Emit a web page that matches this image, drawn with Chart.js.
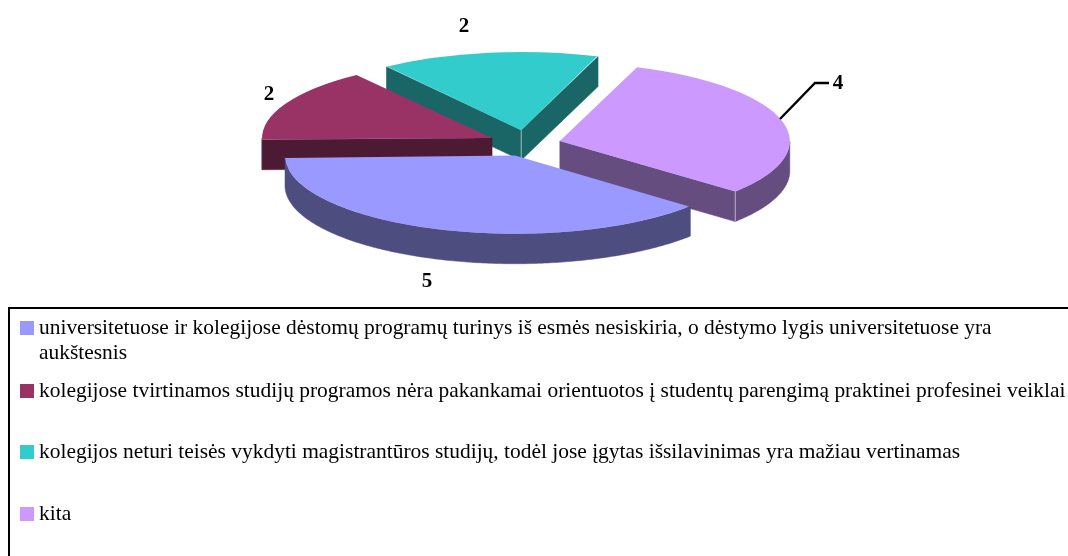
<!DOCTYPE html>
<html>
<head>
<meta charset="utf-8">
<style>
html,body{margin:0;padding:0;background:#fff;width:1068px;height:556px;overflow:hidden}
#wrap{position:relative;width:1068px;height:556px;overflow:hidden}
canvas{position:absolute;left:0;top:0}
#legend{position:absolute;left:8px;top:307px;width:1200px;height:400px;border:2.4px solid #000;box-sizing:border-box;font-family:"Liberation Serif",serif;font-size:21.45px;color:#000}
.sw{position:absolute;left:10px;width:14px;height:14px}
.tx{position:absolute;left:29px;white-space:nowrap;line-height:25px}
</style>
<script src="https://cdn.jsdelivr.net/npm/chart.js@4"></script>
</head>
<body>
<div id="wrap">
<canvas id="c" width="1068" height="556"></canvas>
<div id="legend"></div>
</div>
<script>
const categories = [
  ["universitetuose ir kolegijose dėstomų programų turinys iš esmės nesiskiria, o dėstymo lygis universitetuose yra", "aukštesnis"],
  ["kolegijose tvirtinamos studijų programos nėra pakankamai orientuotos į studentų parengimą praktinei profesinei veiklai"],
  ["kolegijos neturi teisės vykdyti magistrantūros studijų, todėl jose įgytas išsilavinimas yra mažiau vertinamas"],
  ["kita"]
];
const values = [5, 2, 2, 4];
const topColors = ["#9999FF", "#993366", "#33CCCC", "#CC99FF"];
const wallColors = ["#4D4D80", "#4D1A33", "#1A6666", "#664D80"];
const explodeBy = [36, 39, 41, 34];
const paintOrder = [2, 3, 1, 0];
const labelPositions = [[427, 282], [269, 95], [464, 27], [838, 84]];
const legendTops = [321, 384, 445, 507];

const SQUASH = 0.34, CENTER_Y = 144, DEPTH = 30;

function poly(ctx, pts, fill) {
  ctx.beginPath();
  pts.forEach((p, i) => i ? ctx.lineTo(p[0], p[1]) : ctx.moveTo(p[0], p[1]));
  ctx.closePath();
  ctx.fillStyle = fill;
  ctx.fill();
  ctx.strokeStyle = fill;
  ctx.lineWidth = 0.5;
  ctx.stroke();
}

const pie3d = {
  id: 'pie3d',
  beforeDatasetsDraw(chart) {
    const ctx = chart.ctx;
    const arcs = chart.getDatasetMeta(0).data;
    const tY = CENTER_Y - chart.chartArea.height / 2 * SQUASH - chart.chartArea.top * SQUASH;
    paintOrder.forEach(i => {
      const arc = arcs[i];
      const mid = (arc.startAngle + arc.endAngle) / 2;
      const ox = arc.x + Math.cos(mid) * explodeBy[i];
      const oy = arc.y + Math.sin(mid) * explodeBy[i];
      const P = (ang, r) => [ox + Math.cos(ang) * r, oy + Math.sin(ang) * r];
      const S = (p, d) => [p[0], p[1] * SQUASH + tY + d];
      const R = arc.outerRadius;
      const face = (ang) => {
        const a = P(ang, 0), b = P(ang, R);
        poly(ctx, [S(a, 0), S(b, 0), S(b, DEPTH), S(a, DEPTH)], wallColors[i]);
      };
      if (Math.sin(arc.startAngle - Math.PI / 2) > 0) face(arc.startAngle);
      if (Math.sin(arc.endAngle + Math.PI / 2) > 0) face(arc.endAngle);
      const upper = [], lower = [];
      const N = 180;
      for (let k = 0; k <= N; k++) {
        const ang = arc.startAngle + (arc.endAngle - arc.startAngle) * k / N;
        if (Math.sin(ang) >= -0.001) {
          upper.push(S(P(ang, R), 0));
          lower.unshift(S(P(ang, R), DEPTH));
        }
      }
      if (upper.length > 1) poly(ctx, upper.concat(lower), wallColors[i]);
      // the arc element widens its radius when offset; compensate so the top meets the wall
      const sweep = arc.endAngle - arc.startAngle;
      const fix = 1 - Math.sin(Math.min(Math.PI, sweep));
      arc.outerRadius = R - explodeBy[i] * fix;
      ctx.save();
      ctx.setTransform(1, 0, 0, SQUASH, 0, tY);
      arc.draw(ctx);
      ctx.restore();
      arc.outerRadius = R;
      // pale corner edge where two visible wall faces meet
      if (i === 2 || i === 3) {
        const c = i === 2 ? S(P(0, 0), 0) : S(P(arc.endAngle, R), 0);
        ctx.beginPath();
        ctx.moveTo(c[0], c[1]);
        ctx.lineTo(c[0], c[1] + DEPTH);
        ctx.strokeStyle = "rgba(255,255,255,0.55)";
        ctx.lineWidth = 1;
        ctx.stroke();
      }
    });
    return false;
  },
  afterDraw(chart) {
    const ctx = chart.ctx;
    ctx.save();
    ctx.fillStyle = "#000";
    ctx.font = 'bold 21px "Liberation Serif", serif';
    ctx.textAlign = "center";
    ctx.textBaseline = "middle";
    values.forEach((v, i) => ctx.fillText(String(v), labelPositions[i][0], labelPositions[i][1]));
    // leader line of the "kita" label
    ctx.beginPath();
    ctx.moveTo(780, 119);
    ctx.lineTo(815, 83);
    ctx.lineTo(829, 83);
    ctx.strokeStyle = "#000";
    ctx.lineWidth = 2.4;
    ctx.stroke();
    ctx.restore();
  }
};

new Chart(document.getElementById('c'), {
  type: 'pie',
  data: {
    labels: categories.map(l => l.join(' ')),
    datasets: [{
      data: values,
      backgroundColor: topColors,
      borderWidth: 0,
      offset: explodeBy.map(o => o * 4),
      hoverOffset: 0
    }]
  },
  options: {
    responsive: false,
    animation: false,
    rotation: 130.3,
    radius: 230,
    layout: { padding: { right: 14 } },
    plugins: { legend: { display: false }, tooltip: { enabled: false } },
    events: []
  },
  plugins: [pie3d]
});

const legend = document.getElementById('legend');
const frameY = 307 + 2.4;
categories.forEach((lines, i) => {
  const sw = document.createElement('div');
  sw.className = 'sw';
  sw.style.top = (legendTops[i] - frameY) + 'px';
  sw.style.background = topColors[i];
  legend.appendChild(sw);
  const tx = document.createElement('div');
  tx.className = 'tx';
  tx.style.top = (legendTops[i] - frameY - 6) + 'px';
  tx.innerHTML = lines.join('<br>');
  legend.appendChild(tx);
});
</script>
</body>
</html>
